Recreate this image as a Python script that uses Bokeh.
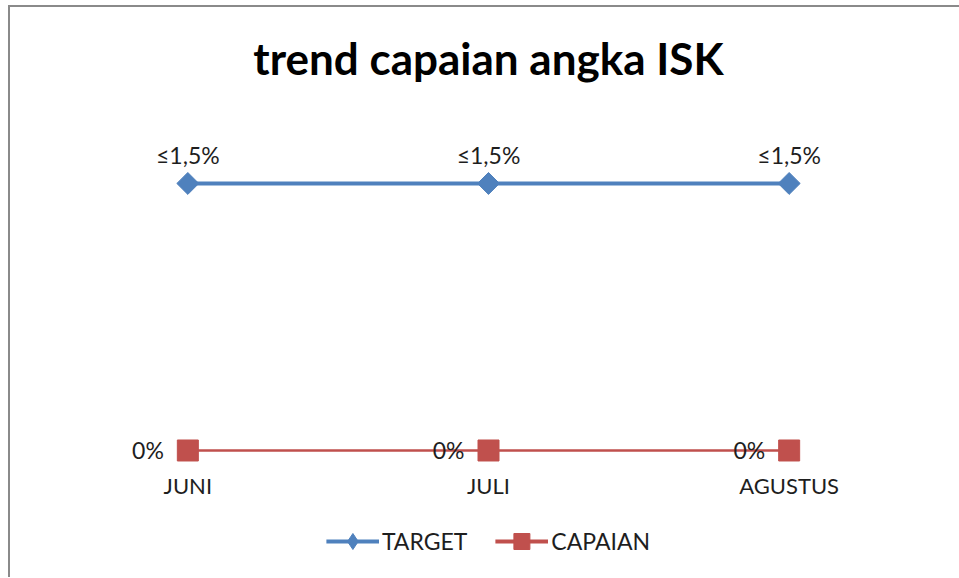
import math
from bokeh.plotting import figure
from bokeh.layouts import column
from bokeh.models import Range1d, Legend, LegendItem, ColumnDataSource
from bokeh.core.properties import value
from bokeh.embed import file_html
from bokeh.resources import INLINE

months = ["JUNI", "JULI", "AGUSTUS"]
target = [1.5, 1.5, 1.5]
capaian = [0.0, 0.0, 0.0]
target_labels = ["≤1,5%", "≤1,5%", "≤1,5%"]
capaian_labels = ["0%", "0%", "0%"]

FONT = "Lato"
BLUE = "#4F81BD"
RED = "#C0504D"
TXT = "#1e1e1e"

src = ColumnDataSource(dict(m=months, t=target, c=capaian, tl=target_labels, cl=capaian_labels))

p = figure(frame_width=902, frame_height=365, x_range=months, y_range=Range1d(-0.0843, 1.966),
           output_backend="svg", toolbar_location=None, y_axis_location=None,
           min_border_left=27, min_border_right=20, min_border_top=93, min_border_bottom=40,
           title="trend capaian angka ISK")
p.title.align = "center"
p.title.text_font = FONT
p.title.text_font_size = "44px"
p.title.text_font_style = "bold"
p.title.text_color = "#000000"
p.title.standoff = 33

p.outline_line_color = None
p.grid.visible = False
xa = p.xaxis[0]
xa.axis_line_color = None
xa.major_tick_line_color = None
xa.minor_tick_line_color = None
xa.major_label_text_font = FONT
xa.major_label_text_font_size = "22px"
xa.major_label_text_color = TXT
xa.major_label_standoff = 0

p.line("m", "t", source=src, line_color=BLUE, line_width=4)
p.scatter("m", "t", source=src, marker="square", angle=math.pi / 4, size=15.5,
          fill_color=BLUE, line_color=BLUE)
p.line("m", "c", source=src, line_color=RED, line_width=2.5)
p.scatter("m", "c", source=src, marker="square", size=21, fill_color=RED, line_color=RED)

p.text("m", "t", text="tl", source=src, text_align="center", text_baseline="bottom",
       y_offset=-14, text_font=value(FONT), text_font_size="23px", text_color=TXT)
p.text("m", "c", text="cl", source=src, text_align="right", text_baseline="middle",
       x_offset=-24, text_font=value(FONT), text_font_size="23px", text_color=TXT)

# legend strip below the chart
q = figure(width=949, height=72, x_range=months, y_range=Range1d(100, 101),
           output_backend="svg", toolbar_location=None,
           x_axis_location=None, y_axis_location=None, min_border=0)
q.outline_line_color = None
q.grid.visible = False
la = q.line("m", "t", source=src, line_color=BLUE, line_width=4)
sa = q.scatter("m", "t", source=src, marker="diamond", size=18,
               fill_color=BLUE, line_color=BLUE)
lb = q.line("m", "c", source=src, line_color=RED, line_width=4)
sb = q.scatter("m", "c", source=src, marker="square", size=21, fill_color=RED, line_color=RED)
legend = Legend(items=[LegendItem(label="TARGET", renderers=[la, sa]),
                       LegendItem(label="CAPAIAN", renderers=[lb, sb])],
                orientation="horizontal", location="center",
                label_text_font=FONT, label_text_font_size="23px", label_text_color=TXT,
                glyph_width=53, glyph_height=40, spacing=28, border_line_color=None,
                background_fill_alpha=0, margin=0, padding=0, label_standoff=3)
q.add_layout(legend, "center")

layout = column(p, q, margin=(5, 0, 0, 8), spacing=0,
                styles={"border-left": "2px solid #8a8a8a", "border-top": "2px solid #8a8a8a"})

open("out.html", "w").write(file_html(layout, INLINE))
